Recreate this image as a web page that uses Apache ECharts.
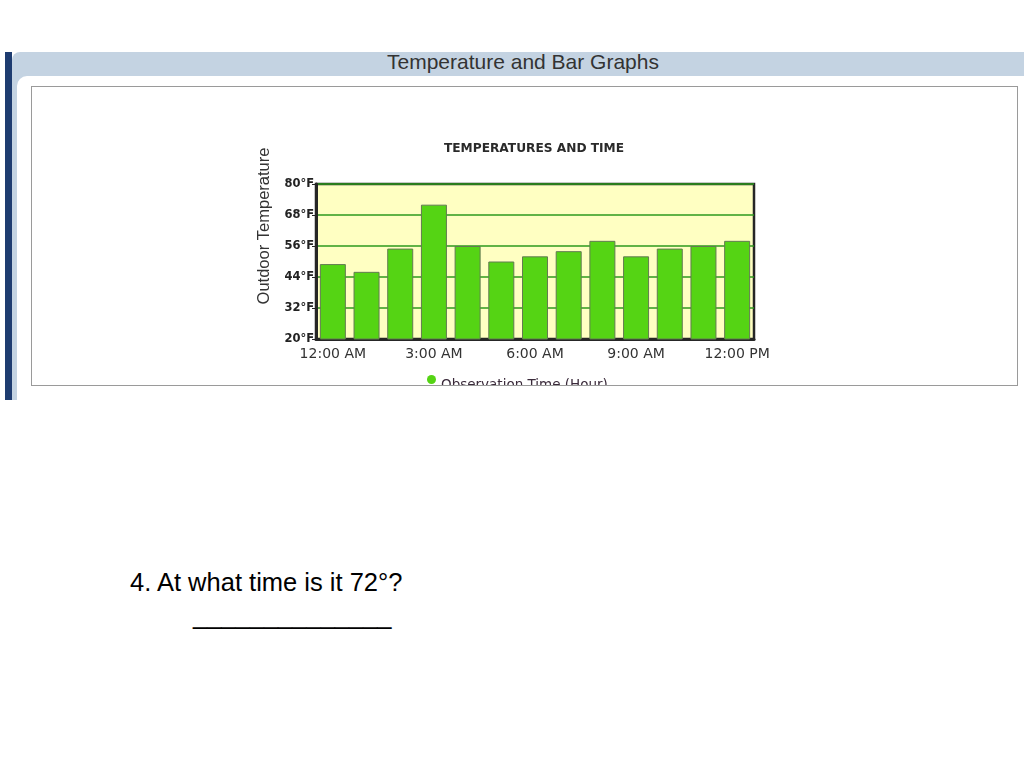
<!DOCTYPE html>
<html>
<head>
<meta charset="utf-8">
<script src="https://cdn.jsdelivr.net/npm/echarts@6/dist/echarts.min.js"></script>
<style>
  html, body { margin: 0; padding: 0; background: #fff; }
  body { width: 1024px; height: 768px; position: relative; overflow: hidden; }
  #stripe { position: absolute; left: 5px; top: 52px; width: 7px; height: 348px; background: #1e3c70; }
  #header { position: absolute; left: 12px; top: 52px; width: 1012px; height: 348px; background: #c4d3e2; border-top-left-radius: 8px; }
  #header span { position: absolute; left: 375px; top: -2px; font: 21px "Liberation Sans", Arial, sans-serif; color: #333; }
  #panel { position: absolute; left: 17px; top: 76px; width: 1007px; height: 324px; background: #fff; border-top-left-radius: 10px; }
  #box { position: absolute; left: 31px; top: 86px; width: 987px; height: 300px; border: 1px solid #9a9a9a; box-sizing: border-box; z-index: 2; pointer-events: none; }
  #chart { position: absolute; left: 32px; top: 87px; width: 984px; height: 298px; z-index: 1; }
  #q { position: absolute; left: 130px; top: 568px; font: 25.5px "Liberation Sans", Arial, sans-serif; color: #000; }
  #line { position: absolute; left: 193px; top: 601px; font: 25.5px "Liberation Sans", Arial, sans-serif; color: #000; }
</style>
</head>
<body>
<div id="header"><span>Temperature and Bar Graphs</span></div>
<div id="stripe"></div>
<div id="panel"></div>
<div id="box"></div>
<div id="chart"></div>
<div id="q">4. At what time is it 72°?</div>
<div id="line">______________</div>
<script>
// hours on the x axis
var hours = ['12:00 AM', '1:00 AM', '2:00 AM', '3:00 AM', '4:00 AM', '5:00 AM', '6:00 AM',
  '7:00 AM', '8:00 AM', '9:00 AM', '10:00 AM', '11:00 AM', '12:00 PM'];
// outdoor temperature (°F)
var temps = [49, 46, 55, 72, 56, 50, 52, 54, 58, 52, 55, 56, 58];
var seriesName = 'Observation Time (Hour)';

var myChart = echarts.init(document.getElementById('chart'));

var option = {
  animation: false,
  title: {
    text: 'TEMPERATURES AND TIME',
    left: 497,
    top: 51,
    textAlign: 'center',
    textStyle: { fontFamily: 'DejaVu Sans', fontSize: 12.2, fontWeight: 'bold', color: '#2a2a2a' }
  },
  legend: {
    data: [seriesName],
    left: 390,
    top: 283,
    icon: 'circle',
    itemWidth: 9,
    itemHeight: 9,
    itemGap: 2,
    itemStyle: { borderWidth: 0 },
    formatter: '{a|{name}}',
    textStyle: {
      rich: {
        a: { fontFamily: 'DejaVu Sans', fontSize: 13.5, color: '#3a2a3a', padding: [12, 0, 0, 0] }
      }
    }
  },
  grid: {
    left: 284, right: 262, top: 97, bottom: 46,
    show: true,
    backgroundColor: '#ffffc2',
    borderColor: '#262626',
    borderWidth: 2.5
  },
  xAxis: {
    type: 'category',
    data: hours,
    axisLine: { lineStyle: { color: '#262626', width: 3 } },
    axisTick: { show: false },
    axisLabel: {
      interval: 2,
      margin: 8,
      fontFamily: 'DejaVu Sans',
      fontSize: 14,
      color: '#333'
    }
  },
  yAxis: {
    type: 'value',
    min: 20,
    max: 80,
    interval: 12,
    axisLine: { show: true, lineStyle: { color: '#262626', width: 3 } },
    axisTick: { show: true, length: 4, lineStyle: { color: '#262626' } },
    axisLabel: {
      formatter: '{value}°F',
      margin: 2,
      fontFamily: 'DejaVu Sans',
      fontSize: 11.5,
      fontWeight: 'bold',
      color: '#222'
    },
    splitLine: { lineStyle: { color: '#2d9a1c', width: 1.5 } }
  },
  series: [{
    name: seriesName,
    type: 'bar',
    data: temps,
    barWidth: 26,
    itemStyle: { color: '#55d414', borderColor: '#637a52', borderWidth: 1 }
  }],
  graphic: [{
    type: 'text',
    x: 232,
    y: 139,
    rotation: Math.PI / 2,
    style: {
      text: 'Outdoor Temperature',
      fontFamily: 'Liberation Sans',
      fontSize: 16.5,
      fill: '#333',
      textAlign: 'center',
      textVerticalAlign: 'middle'
    }
  }]
};

myChart.setOption(option);
</script>
</body>
</html>
